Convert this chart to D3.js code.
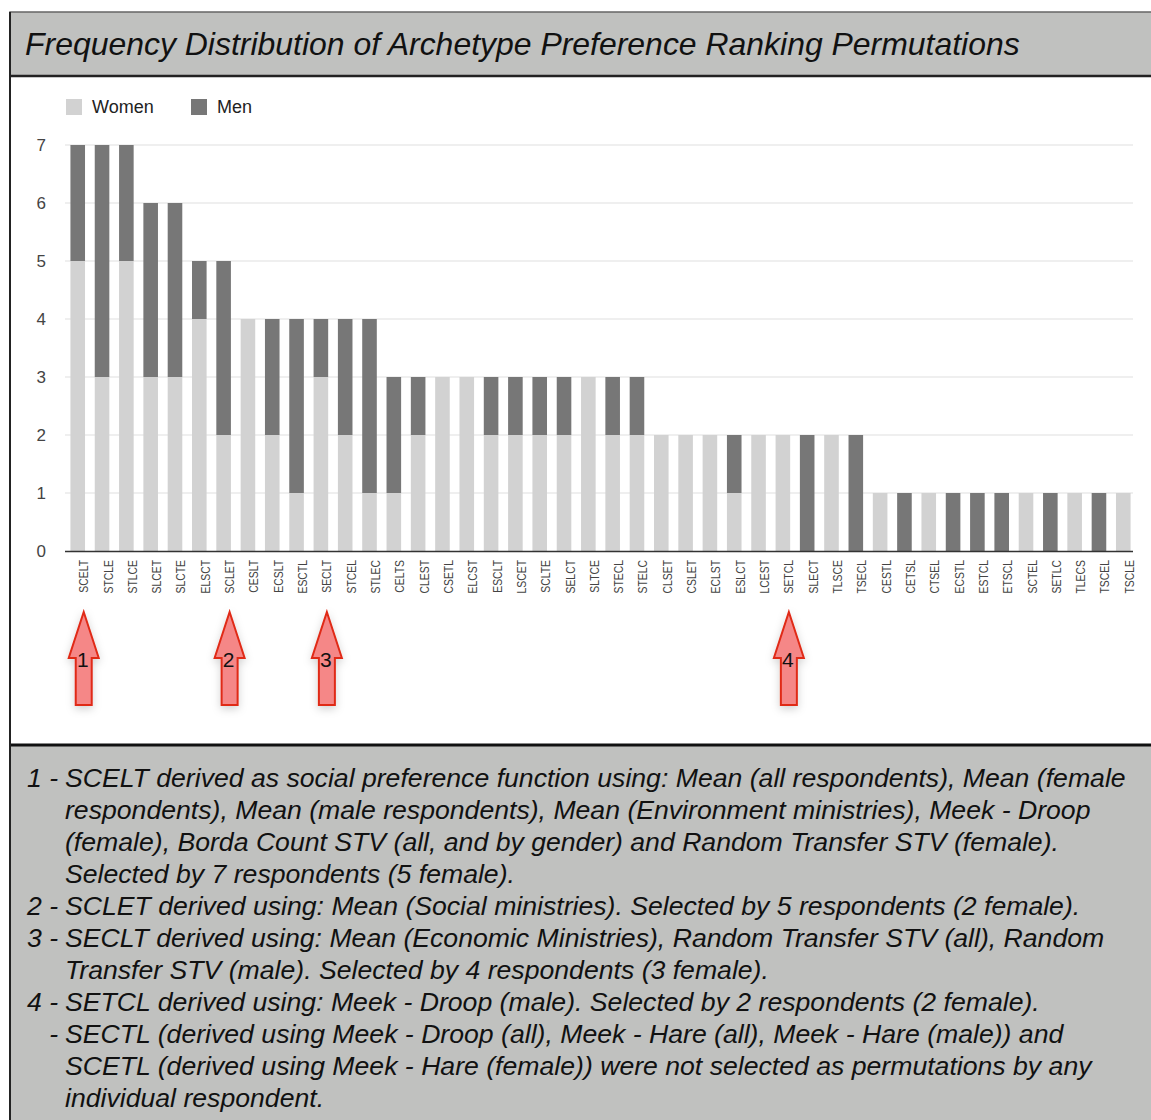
<!DOCTYPE html>
<html>
<head>
<meta charset="utf-8">
<script src="https://cdn.jsdelivr.net/npm/d3@7"></script>
<style>
  body { margin: 0; background: #fff; }
  svg { display: block; font-family: Arial, "Liberation Sans", Helvetica, sans-serif; }
</style>
</head>
<body>
<div id="chart"></div>
<script>

var titleText = "Frequency Distribution of Archetype Preference Ranking Permutations";

var categories = ["SCELT","STCLE","STLCE","SLCET","SLCTE","ELSCT","SCLET","CESLT","ECSLT","ESCTL",
	"SECLT","STCEL","STLEC","CELTS","CLEST","CSETL","ELCST","ESCLT","LSCET","SCLTE",
	"SELCT","SLTCE","STECL","STELC","CLSET","CSLET","ECLST","ESLCT","LCEST","SETCL",
	"SLECT","TLSCE","TSECL","CESTL","CETSL","CTSEL","ECSTL","ESTCL","ETSCL","SCTEL",
	"SETLC","TLECS","TSCEL","TSCLE"];

var women = [5,3,5,3,3,4,2,4,2,1,
	3,2,1,1,2,3,3,2,2,2,
	2,3,2,2,2,2,2,1,2,2,
	0,2,0,1,0,1,0,0,0,1,
	0,1,0,1];

var men = [2,4,2,3,3,1,3,0,2,3,
	1,2,3,2,1,0,0,1,1,1,
	1,0,1,1,0,0,0,1,0,0,
	2,0,2,0,1,0,1,1,1,0,
	1,0,1,0];

var seriesNames = ["Women", "Men"];
var seriesColors = ["#d2d2d2", "#777777"];

var yTicks = [0,1,2,3,4,5,6,7];

// arrows under these permutations, numbered 1..4
var marked = ["SCELT", "SCLET", "SECLT", "SETCL"];

// caption lines: [prefix, text]
var notes = [
	["1 -", "SCELT derived as social preference function using: Mean (all respondents), Mean (female"],
	["", "respondents), Mean (male respondents), Mean (Environment ministries), Meek - Droop"],
	["", "(female), Borda Count STV (all, and by gender) and Random Transfer STV (female)."],
	["", "Selected by 7 respondents (5 female)."],
	["2 -", "SCLET derived using: Mean (Social ministries). Selected by 5 respondents (2 female)."],
	["3 -", "SECLT derived using: Mean (Economic Ministries), Random Transfer STV (all), Random"],
	["", "Transfer STV (male). Selected by 4 respondents (3 female)."],
	["4 -", "SETCL derived using: Meek - Droop (male). Selected by 2 respondents (2 female)."],
	["-", "SECTL (derived using Meek - Droop (all), Meek - Hare (all), Meek - Hare (male)) and"],
	["", "SCETL (derived using Meek - Hare (female)) were not selected as permutations by any"],
	["", "individual respondent."]
];

var width = 1151, height = 1120;

var svg = d3.select("#chart").append("svg")
	.attr("width", width)
	.attr("height", height);

var defs = svg.append("defs");
var shadow = defs.append("filter").attr("id", "soft").attr("x", "-60%").attr("y", "-30%").attr("width", "220%").attr("height", "160%");
shadow.append("feDropShadow").attr("dx", 0).attr("dy", 3).attr("stdDeviation", 4)
	.attr("flood-color", "#000").attr("flood-opacity", 0.18);

// panels
svg.append("rect").attr("x", 10).attr("y", 12).attr("width", 1160).attr("height", 64)
	.attr("fill", "#c0c1bf").attr("stroke", "#666").attr("stroke-width", 1.5);
svg.append("rect").attr("x", 10).attr("y", 76).attr("width", 1160).attr("height", 669)
	.attr("fill", "#fff");
svg.append("rect").attr("x", 10).attr("y", 745).attr("width", 1160).attr("height", 400)
	.attr("fill", "#c0c1bf");
svg.append("line").attr("x1", 10).attr("x2", 1160).attr("y1", 76).attr("y2", 76)
	.attr("stroke", "#222").attr("stroke-width", 2.5);
svg.append("line").attr("x1", 10).attr("x2", 1160).attr("y1", 745).attr("y2", 745)
	.attr("stroke", "#111").attr("stroke-width", 3);
svg.append("line").attr("x1", 10).attr("x2", 10).attr("y1", 12).attr("y2", 1120)
	.attr("stroke", "#222").attr("stroke-width", 2);

var title = svg.append("text")
	.attr("x", 25).attr("y", 55)
	.attr("font-size", 29.5).attr("font-style", "italic")
	.attr("fill", "#111")
	.text(titleText);
// fit title to the reference width (25 -> 1020)
var tw = title.node().getComputedTextLength();
title.attr("font-size", Math.min(33, 29.5 * 995 / tw));

// scales
var x = d3.scaleBand()
	.domain(categories)
	.range([68, 1133])
	.paddingInner(0.4)
	.paddingOuter(0.1);

var y = d3.scaleLinear()
	.domain([0, 7])
	.range([551, 145]);

// grid
var grid = svg.append("g");
grid.selectAll("line")
	.data(yTicks.filter(function(d){ return d > 0; }))
	.enter()
	.append("line")
	.attr("x1", 65).attr("x2", 1133)
	.attr("y1", function(d){ return y(d); })
	.attr("y2", function(d){ return y(d); })
	.attr("stroke", "#e0e0e0").attr("stroke-width", 1.2);

// y axis labels
var yAxis = svg.append("g")
	.attr("transform", "translate(46,0)")
	.call(d3.axisLeft(y).tickValues(yTicks).tickSize(0).tickPadding(0).tickFormat(d3.format("d")));
yAxis.select(".domain").remove();
yAxis.selectAll("text")
	.attr("font-size", 17)
	.attr("font-family", "Arial, \"Liberation Sans\", sans-serif")
	.attr("fill", "#444");

// stacked bars
var rows = categories.map(function(c, i){
	return { cat: c, Women: women[i], Men: men[i] };
});
var stacked = d3.stack().keys(seriesNames)(rows);

var layers = svg.append("g").selectAll("g")
	.data(stacked)
	.enter()
	.append("g")
	.attr("fill", function(d, i){ return seriesColors[i]; });

layers.selectAll("rect")
	.data(function(d){ return d; })
	.enter()
	.append("rect")
	.attr("x", function(d){ return x(d.data.cat); })
	.attr("width", x.bandwidth())
	.attr("y", function(d){ return y(d[1]); })
	.attr("height", function(d){ return y(d[0]) - y(d[1]); });

// baseline
svg.append("line")
	.attr("x1", 65).attr("x2", 1133)
	.attr("y1", y(0) + 0.5).attr("y2", y(0) + 0.5)
	.attr("stroke", "#333").attr("stroke-width", 1.3);

// x labels
var xAxis = svg.append("g")
	.attr("transform", "translate(0," + (y(0)) + ")")
	.call(d3.axisBottom(x).tickSize(0).tickPadding(0));
xAxis.select(".domain").remove();
xAxis.selectAll("text")
	.attr("font-size", 13)
	.attr("font-family", "Arial, \"Liberation Sans\", sans-serif")
	.attr("fill", "#444")
	.attr("text-anchor", "end")
	.attr("dy", 0)
	.attr("y", 0)
	.attr("transform", "translate(10.5,9) rotate(-90) scale(0.8,1)");

// legend
var legend = svg.append("g").selectAll("g")
	.data(seriesNames)
	.enter()
	.append("g")
	.attr("transform", function(d, i){ return "translate(" + (66 + i * 125) + ",99)"; });
legend.append("rect")
	.attr("width", 16).attr("height", 16)
	.attr("fill", function(d, i){ return seriesColors[i]; });
legend.append("text")
	.attr("x", 26).attr("y", 14)
	.attr("font-size", 18)
	.attr("fill", "#222")
	.text(function(d){ return d; });

// arrows
var arrowShape = [[0,0],[15,46],[8,46],[8,93],[-8,93],[-8,46],[-15,46]];
var arrows = svg.append("g").selectAll("g")
	.data(marked)
	.enter()
	.append("g")
	.attr("transform", function(d){ return "translate(" + (x(d) + x.bandwidth() / 2 + 6) + ",612)"; });
arrows.append("polygon")
	.attr("points", arrowShape.map(function(p){ return p.join(","); }).join(" "))
	.attr("fill", "#f58787")
	.attr("stroke", "#e02a18")
	.attr("stroke-width", 2)
	.attr("stroke-linejoin", "miter")
	.attr("filter", "url(#soft)");
arrows.append("text")
	.attr("x", -1).attr("y", 55)
	.attr("font-size", 21)
	.attr("text-anchor", "middle")
	.attr("fill", "#111")
	.text(function(d, i){ return i + 1; });

// caption
var cap = svg.append("g")
	.attr("font-size", 23)
	.attr("font-style", "italic")
	.attr("fill", "#111");
var capLines = cap.selectAll("g")
	.data(notes)
	.enter()
	.append("g")
	.attr("transform", function(d, i){ return "translate(0," + (787 + i * 32) + ")"; });
capLines.append("text")
	.attr("x", 58).attr("text-anchor", "end")
	.text(function(d){ return d[0]; });
var bodies = capLines.append("text")
	.attr("x", 65)
	.text(function(d){ return d[1]; });
// fit first caption line to the reference width (65 -> 1126)
var cw = bodies.node().getComputedTextLength();
cap.attr("font-size", Math.min(28, 23 * 1061 / cw));

</script>
</body>
</html>
